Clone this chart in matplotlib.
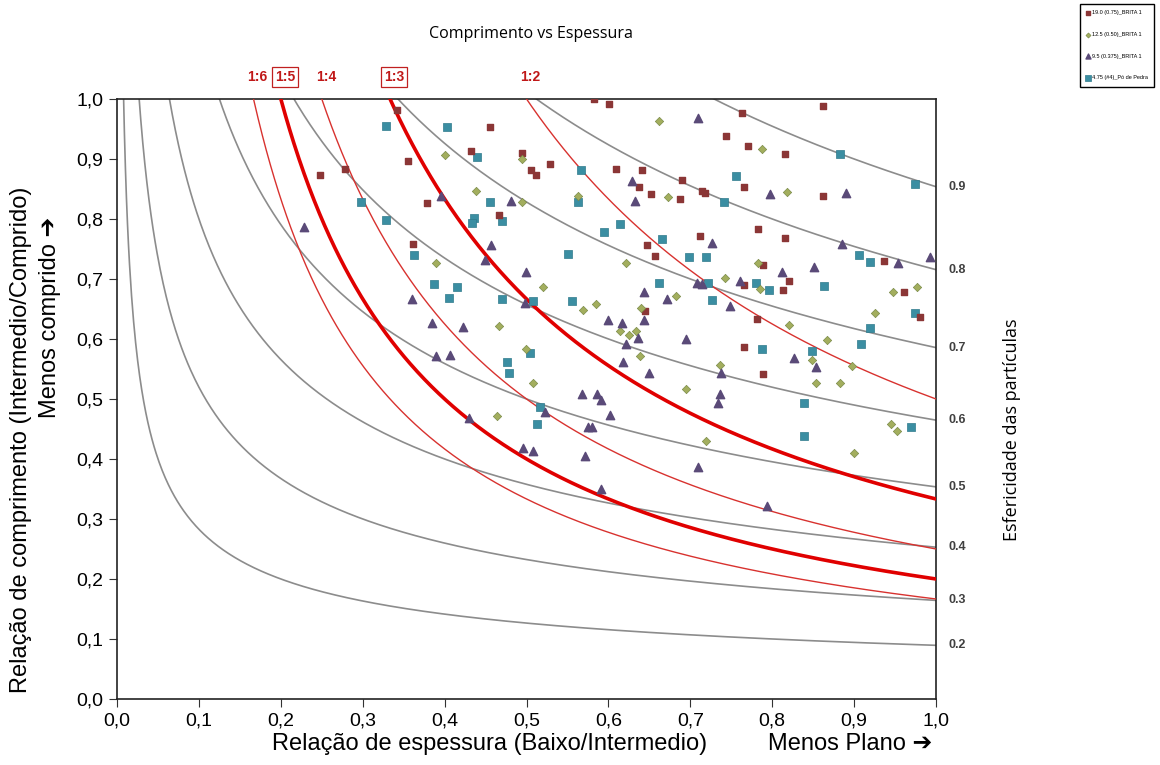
import numpy as np
import matplotlib.pyplot as plt
from matplotlib.ticker import FuncFormatter

# sphericity isolines and length/thickness ratio lines
esfericidade = [0.2, 0.3, 0.4, 0.5, 0.6, 0.7, 0.8, 0.9]
razoes = [1/2, 1/3, 1/4, 1/5, 1/6]
razoes_txt = ["1:2", "1:3", "1:4", "1:5", "1:6"]
razoes_destaque = ["1:3", "1:5"]

# 19.0 (0.75)_BRITA 1
b19_x = [0.342, 0.248, 0.278, 0.455, 0.355, 0.432, 0.495, 0.529, 0.506, 0.512, 0.379,
         0.466, 0.361, 0.582, 0.601, 0.763, 0.744, 0.771, 0.609, 0.641, 0.637, 0.652,
         0.688, 0.690, 0.714, 0.718, 0.766, 0.712, 0.647, 0.657, 0.783, 0.766, 0.645,
         0.781, 0.862, 0.816, 0.862, 0.816, 0.937, 0.789, 0.821, 0.813, 0.961, 0.980,
         0.765, 0.789]
b19_y = [0.982, 0.873, 0.884, 0.954, 0.897, 0.913, 0.910, 0.892, 0.881, 0.873, 0.827,
         0.806, 0.759, 1.000, 0.992, 0.976, 0.938, 0.922, 0.884, 0.882, 0.854, 0.841,
         0.833, 0.865, 0.846, 0.843, 0.854, 0.771, 0.757, 0.739, 0.784, 0.690, 0.647,
         0.634, 0.989, 0.908, 0.838, 0.768, 0.730, 0.723, 0.696, 0.682, 0.679, 0.636,
         0.587, 0.541]

# 12.5 (0.50)_BRITA 1
b12_x = [0.401, 0.495, 0.438, 0.494, 0.389, 0.520, 0.466, 0.662, 0.673, 0.563, 0.622,
         0.783, 0.742, 0.683, 0.569, 0.585, 0.640, 0.788, 0.818, 0.785, 0.948, 0.977,
         0.926, 0.820, 0.867, 0.849, 0.898, 0.854, 0.883, 0.945, 0.952, 0.900, 0.614,
         0.625, 0.634, 0.638, 0.736, 0.695, 0.719, 0.499, 0.508, 0.464]
b12_y = [0.907, 0.900, 0.847, 0.829, 0.726, 0.686, 0.622, 0.963, 0.837, 0.838, 0.726,
         0.727, 0.702, 0.671, 0.648, 0.659, 0.651, 0.917, 0.845, 0.683, 0.678, 0.686,
         0.643, 0.623, 0.599, 0.565, 0.555, 0.526, 0.526, 0.458, 0.446, 0.410, 0.613,
         0.607, 0.613, 0.572, 0.557, 0.516, 0.430, 0.583, 0.526, 0.472]

# 9.5 (0.375)_BRITA 1
b9_x = [0.228, 0.395, 0.481, 0.457, 0.449, 0.499, 0.498, 0.360, 0.385, 0.423, 0.709,
        0.629, 0.632, 0.727, 0.708, 0.714, 0.761, 0.643, 0.671, 0.748, 0.599, 0.616,
        0.643, 0.797, 0.890, 0.885, 0.954, 0.993, 0.812, 0.851, 0.826, 0.854, 0.794,
        0.636, 0.622, 0.695, 0.618, 0.650, 0.738, 0.568, 0.586, 0.591, 0.736, 0.734,
        0.602, 0.575, 0.580, 0.571, 0.709, 0.591, 0.389, 0.407, 0.522, 0.430, 0.496,
        0.508]
b9_y = [0.786, 0.838, 0.830, 0.757, 0.731, 0.711, 0.660, 0.666, 0.626, 0.620, 0.968,
        0.864, 0.830, 0.760, 0.694, 0.691, 0.697, 0.679, 0.666, 0.655, 0.632, 0.626,
        0.632, 0.842, 0.844, 0.758, 0.726, 0.737, 0.712, 0.720, 0.569, 0.554, 0.322,
        0.601, 0.591, 0.600, 0.561, 0.544, 0.544, 0.509, 0.509, 0.498, 0.509, 0.494,
        0.473, 0.454, 0.454, 0.405, 0.386, 0.350, 0.571, 0.574, 0.478, 0.469, 0.419,
        0.414]

# 4.75 (#4)_Pó de Pedra
pp_x = [0.328, 0.298, 0.328, 0.403, 0.439, 0.455, 0.436, 0.434, 0.470, 0.362, 0.551,
        0.387, 0.415, 0.405, 0.470, 0.508, 0.555, 0.567, 0.563, 0.741, 0.756, 0.614,
        0.595, 0.666, 0.699, 0.719, 0.662, 0.721, 0.780, 0.727, 0.883, 0.974, 0.906,
        0.920, 0.796, 0.863, 0.974, 0.919, 0.908, 0.788, 0.849, 0.839, 0.969, 0.839,
        0.504, 0.476, 0.479, 0.516, 0.513]
pp_y = [0.955, 0.828, 0.799, 0.953, 0.903, 0.828, 0.801, 0.793, 0.796, 0.740, 0.742,
        0.692, 0.686, 0.669, 0.667, 0.664, 0.664, 0.881, 0.828, 0.828, 0.872, 0.791,
        0.778, 0.767, 0.737, 0.737, 0.694, 0.694, 0.694, 0.665, 0.909, 0.858, 0.740,
        0.729, 0.681, 0.688, 0.643, 0.619, 0.591, 0.583, 0.580, 0.494, 0.454, 0.438,
        0.577, 0.561, 0.543, 0.487, 0.458]

plt.rcParams['font.family'] = ['Liberation Sans', 'DejaVu Sans']

fig = plt.figure(figsize=(11.6, 7.65), dpi=100)
ax = fig.add_axes([0.1009, 0.0863, 0.7060, 0.7843])

x = np.linspace(0.004, 1.0, 800)
for s in esfericidade:
    ax.plot(x, s**1.5 / np.sqrt(x), color='#8c8c8c', lw=1.2, zorder=2)
    ax.annotate(f"{s:.1f}", xy=(1.0, s**1.5), xytext=(9, 0), textcoords='offset points',
                ha='left', va='center', fontsize=9, fontweight='bold', color='#404040',
                annotation_clip=False)

for r, txt in zip(razoes, razoes_txt):
    grosso = txt in razoes_destaque
    ax.plot(x, r / x, color='#e00000' if grosso else '#d8322f',
            lw=2.6 if grosso else 1.0, zorder=3)
    box = dict(boxstyle='square,pad=0.2', fc='white', ec='#c02020', lw=0.9) if grosso else None
    ax.text(r + 0.005, 1.025, txt, ha='center', va='bottom', fontsize=10, fontweight='bold',
            color='#c01818', bbox=box)

ax.scatter(b19_x, b19_y, marker='s', s=16, color='#8b3636', label='19.0 (0.75)_BRITA 1', zorder=5)
ax.scatter(b12_x, b12_y, marker='D', s=18, color='#a3ae5e', edgecolor='#7a8a48', lw=0.5,
           label='12.5 (0.50)_BRITA 1', zorder=5)
ax.scatter(b9_x, b9_y, marker='^', s=36, color='#5a4a78', label='9.5 (0.375)_BRITA 1', zorder=5)
ax.scatter(pp_x, pp_y, marker='s', s=38, color='#3b8ea2', edgecolor='#2f7a8c', lw=0.5,
           label='4.75 (#4)_Pó de Pedra', zorder=4)

ax.set_xlim(0, 1)
ax.set_ylim(0, 1)
ticks = np.round(np.arange(0, 1.01, 0.1), 1)
ax.set_xticks(ticks)
ax.set_yticks(ticks)
virgula = FuncFormatter(lambda v, p: f"{v:.1f}".replace('.', ','))
ax.xaxis.set_major_formatter(virgula)
ax.yaxis.set_major_formatter(virgula)
ax.tick_params(labelsize=14, direction='out', length=6, color='#333333', pad=4)
for sp in ax.spines.values():
    sp.set_linewidth(1.2)
    sp.set_color('#222222')

fig.text(0.422, 0.028, "Relação de espessura (Baixo/Intermedio)", fontsize=17,
         ha='center', va='center')
fig.text(0.733, 0.028, "Menos Plano ➔", fontsize=17, ha='center', va='center')
fig.text(0.018, 0.425, "Relação de comprimento (Intermedio/Comprido)", fontsize=17,
         rotation=90, ha='center', va='center')
fig.text(0.043, 0.585, "Menos comprido ➔", fontsize=17, rotation=90, ha='center',
         va='center')

fig.text(0.458, 0.955, "Comprimento vs Espessura", fontsize=11.5, ha='center',
         va='center', family=['Open Sans'])
fig.text(0.872, 0.438, "Esfericidade das partículas", fontsize=13, rotation=90,
         ha='center', va='center', family=['Open Sans'])

fig.legend(loc='upper right', bbox_to_anchor=(0.997, 0.998), fontsize=4, frameon=True,
           fancybox=False, edgecolor='black', framealpha=1, markerscale=0.6,
           handletextpad=0.2, borderpad=1.1, labelspacing=3.0, handlelength=0.8)

fig.savefig('out.png', dpi=100)
